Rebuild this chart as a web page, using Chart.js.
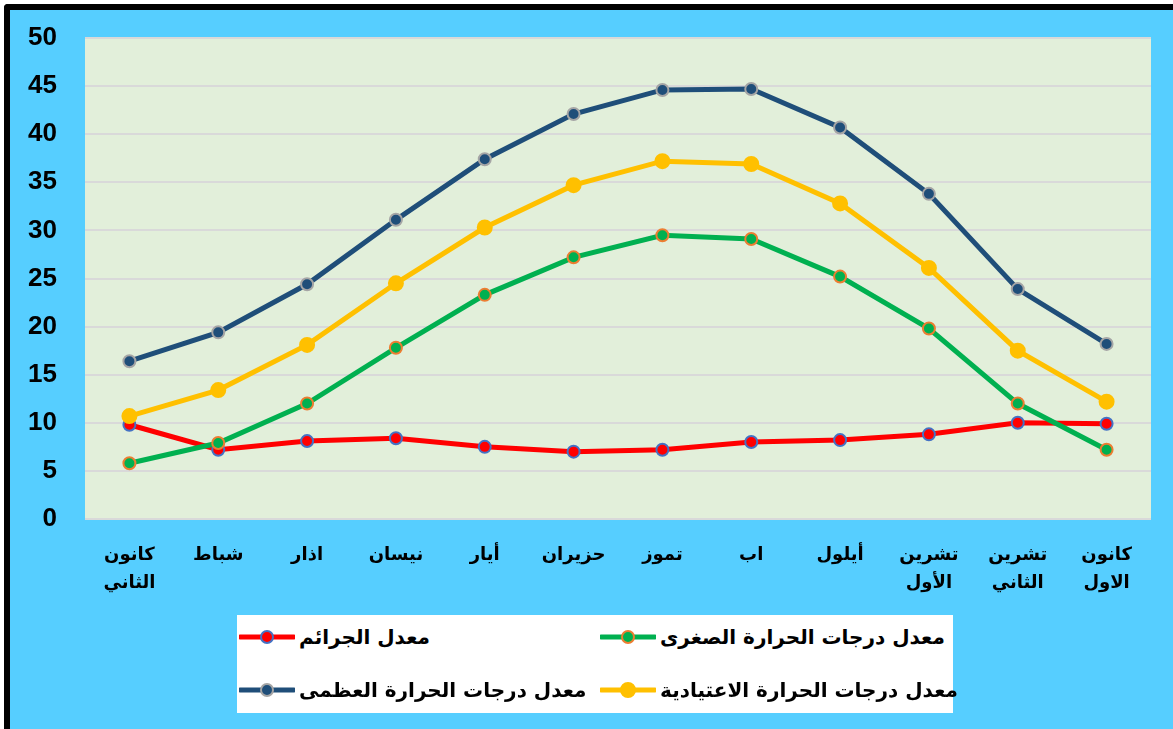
<!DOCTYPE html>
<html lang="ar">
<head>
<meta charset="utf-8">
<script src="https://cdn.jsdelivr.net/npm/chart.js@4.4.1/dist/chart.umd.min.js"></script>
<style>
  html, body { margin: 0; padding: 0; background: #ffffff; }
  #wrap { position: relative; width: 1173px; height: 729px; overflow: hidden; }
  #frame {
    position: absolute; left: 4px; top: 4px; width: 1175px; height: 719px;
    background: #56CEFF; border-left: 6px solid #000; border-top: 6px solid #000;
    border-bottom: 4px solid #000; border-top-left-radius: 4px;
  }
  #chart { position: absolute; left: 0; top: 0; }
  #legend {
    position: absolute; left: 237px; top: 615px; width: 716px; height: 98px;
    background: #ffffff;
  }
  .item {
    position: absolute; display: flex; align-items: center; height: 30px;
    font-family: "DejaVu Sans", sans-serif; font-weight: bold; font-size: 20px; color: #000;
    white-space: nowrap;
  }
  .item svg { flex: none; }
  .item span { margin-left: 4px; direction: rtl; }
</style>
</head>
<body>
<div id="wrap">
  <div id="frame"></div>
  <canvas id="chart" width="1173" height="729"></canvas>
  <div id="legend"></div>
</div>
<script>
// month names (two-line labels where the original wraps)
const months = [
  ["كانون", "الثاني"], ["شباط"], ["اذار"], ["نيسان"], ["أيار"], ["حزيران"],
  ["تموز"], ["اب"], ["أيلول"], ["تشرين", "الأول"], ["تشرين", "الثاني"], ["كانون", "الاول"]
];

const minLabel = "معدل درجات الحرارة الصغرى";
const crimeLabel = "معدل الجرائم";
const avgLabel = "معدل درجات الحرارة الاعتيادية";
const maxLabel = "معدل درجات الحرارة العظمى";

const minTemp = [5.8, 7.9, 12.0, 17.8, 23.3, 27.2, 29.5, 29.1, 25.2, 19.8, 12.0, 7.2];
const crimes  = [9.8, 7.2, 8.1, 8.4, 7.5, 7.0, 7.2, 8.0, 8.2, 8.8, 10.0, 9.9];
const avgTemp = [10.7, 13.4, 18.1, 24.5, 30.3, 34.7, 37.2, 36.9, 32.8, 26.1, 17.5, 12.2];
const maxTemp = [16.4, 19.4, 24.4, 31.1, 37.4, 42.1, 44.6, 44.7, 40.7, 33.8, 23.9, 18.2];

const yTicks = [0, 5, 10, 15, 20, 25, 30, 35, 40, 45, 50];

function series(label, data, line, fill, edge, order, radius) {
  return {
    label: label,
    data: data,
    borderColor: line,
    backgroundColor: fill,
    borderWidth: 5,
    pointBackgroundColor: fill,
    pointBorderColor: edge,
    pointBorderWidth: 2,
    pointRadius: radius,
    pointHoverRadius: radius,
    tension: 0,
    order: order
  };
}

// plot area fill (light green)
const plotBg = {
  id: "plotBg",
  beforeDraw(chart) {
    const { ctx, chartArea } = chart;
    ctx.save();
    ctx.fillStyle = "#E2EFDA";
    ctx.fillRect(chartArea.left, chartArea.top, chartArea.right - chartArea.left, chartArea.bottom - chartArea.top);
    ctx.restore();
  }
};

const chart = new Chart(document.getElementById("chart").getContext("2d"), {
  type: "line",
  data: {
    labels: months,
    datasets: [
      series(minLabel, minTemp, "#00B050", "#00B050", "#ED7D31", 3, 6),
      series(crimeLabel, crimes, "#FF0000", "#FF0000", "#4472C4", 4, 6),
      series(avgLabel, avgTemp, "#FFC000", "#FFC000", "#FFC000", 2, 7),
      series(maxLabel, maxTemp, "#1F4E79", "#1F4E79", "#A5A5A5", 1, 6)
    ]
  },
  options: {
    responsive: false,
    animation: false,
    layout: { padding: { left: 0, top: 38, right: 22, bottom: 0 } },
    plugins: {
      legend: { display: false },
      tooltip: { enabled: false }
    },
    scales: {
      x: {
        offset: true,
        grid: { display: false },
        border: { display: false },
        ticks: {
          color: "#000",
          padding: 14,
          maxRotation: 0,
          autoSkip: false,
          font: { family: "DejaVu Sans", weight: "bold", size: 18, lineHeight: 1.55 }
        },
        afterFit(scale) { scale.height = 210; scale.paddingLeft = 0; scale.paddingRight = 0; }
      },
      y: {
        min: 0,
        max: 50,
        afterBuildTicks(scale) { scale.ticks = yTicks.map(v => ({ value: v })); },
        grid: { color: "#D9D9D9", lineWidth: 2, drawTicks: false },
        border: { display: false },
        ticks: {
          color: "#000",
          padding: 28,
          font: { family: "Liberation Sans", weight: "bold", size: 26 }
        },
        // fixed plot area: 85px axis, no extra label padding
        afterFit(scale) { scale.width = 85; scale.paddingTop = 0; scale.paddingBottom = 0; }
      }
    }
  },
  plugins: [plotBg]
});

// legend in the white box, built from the datasets (right column first, like RTL)
const legendBox = document.getElementById("legend");
chart.data.datasets.forEach((ds, i) => {
  const col = i % 2;
  const row = Math.floor(i / 2);
  const item = document.createElement("div");
  item.className = "item";
  item.style.left = (col === 0 ? 363 : 2) + "px";
  item.style.top = (row === 0 ? 7 : 60) + "px";
  item.innerHTML =
    '<svg width="56" height="18"><line x1="1" y1="9" x2="55" y2="9" stroke="' + ds.borderColor +
    '" stroke-width="5" stroke-linecap="round"/><circle cx="28" cy="9" r="' + ds.pointRadius +
    '" fill="' + ds.pointBackgroundColor + '" stroke="' + ds.pointBorderColor + '" stroke-width="2"/></svg>' +
    '<span>' + ds.label + '</span>';
  legendBox.appendChild(item);
});
</script>
</body>
</html>
